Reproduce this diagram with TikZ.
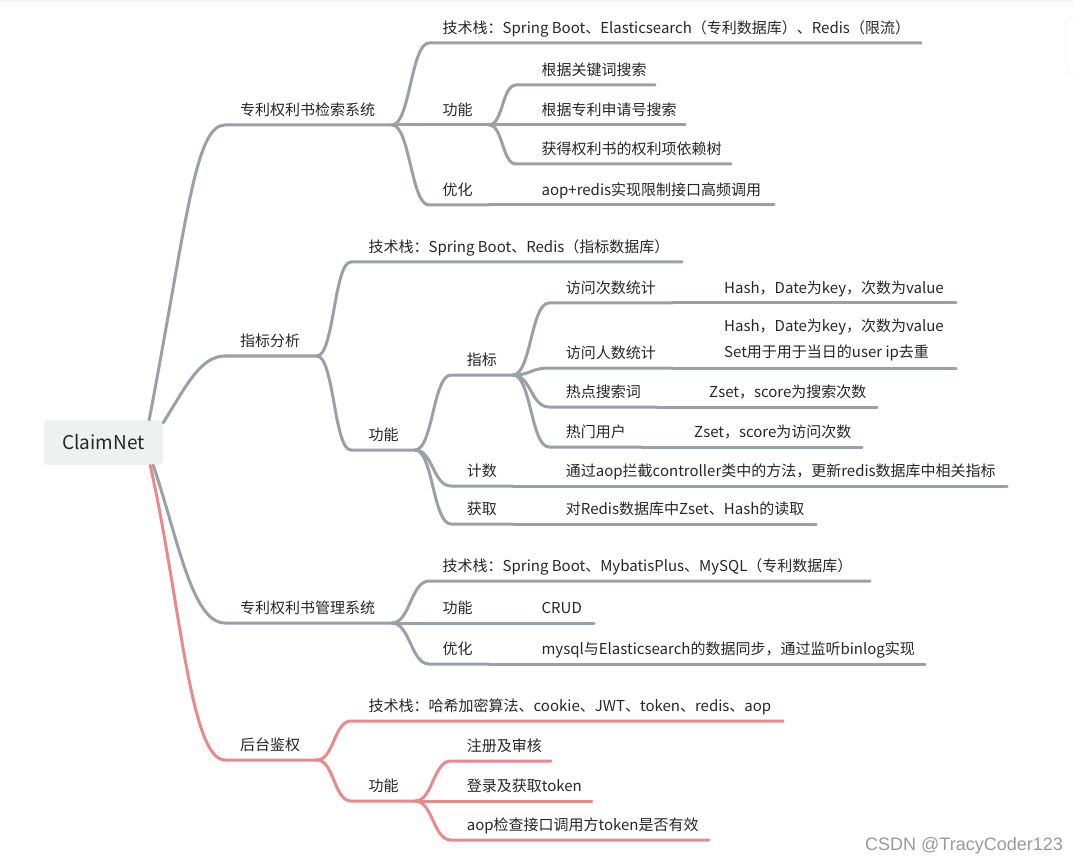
\documentclass[tikz,border=0pt]{standalone}
\usepackage{fontspec}
\setmainfont{Noto Sans CJK SC}
\newfontfamily\markfont{Liberation Sans}
\definecolor{branchgray}{HTML}{9AA0A8}
\definecolor{branchred}{HTML}{E8898C}
\definecolor{rootgray}{HTML}{EFF1F1}
\definecolor{topictext}{HTML}{262626}

\tikzset{
  topic/.style={anchor=base west,inner sep=0pt,text=topictext,font=\fontsize{15}{18}\selectfont},
  gbranch/.style={draw=branchgray,line width=3pt,line cap=round},
  rbranch/.style={draw=branchred,line width=3pt,line cap=round},
}

\begin{document}
\begin{tikzpicture}[x=1pt,y=-1pt]
\useasboundingbox (0,0) rectangle (1073,866);
\fill[black!4] (0,0) rectangle (1073,2);
\draw[black!7,fill=white,rounded corners=8pt] (1066,17) rectangle (1095,75);

% root
\node[fill=rootgray,rounded corners=4pt,minimum width=119pt,minimum height=45pt,inner sep=0pt,
  text=topictext,font=\fontsize{19}{22}\selectfont] (root) at (103.5,442.5) {ClaimNet};

% underline ends
\coordinate (jsxt-l) at (225,125);       \coordinate (jsxt-r) at (392,125);
\coordinate (zbfx-l) at (225,356);       \coordinate (zbfx-r) at (317,356);
\coordinate (glxt-l) at (225,623);       \coordinate (glxt-r) at (392,623);
\coordinate (htjq-l) at (225,760);       \coordinate (htjq-r) at (317,760);

\coordinate (jsxt-jsz-l) at (429,43);    \coordinate (jsxt-jsz-r) at (921,43);
\coordinate (jsxt-gn-l) at (429,125);    \coordinate (jsxt-gn-r) at (489,125);
\coordinate (jsxt-yh-l) at (429,205);    \coordinate (jsxt-yh-r) at (489,205);
\coordinate (gjc-l) at (516,85);         \coordinate (gjc-r) at (655,85);
\coordinate (sqh-l) at (516,125);        \coordinate (sqh-r) at (685,125);
\coordinate (ylsh-l) at (516,164);       \coordinate (ylsh-r) at (731,164);
\coordinate (xl-l) at (516,205);         \coordinate (xl-r) at (774,205);

\coordinate (zbfx-jsz-l) at (351,262);   \coordinate (zbfx-jsz-r) at (682,262);
\coordinate (zbfx-gn-l) at (351,450);    \coordinate (zbfx-gn-r) at (415,450);
\coordinate (zb-l) at (451,375);         \coordinate (zb-r) at (513,375);
\coordinate (fwcs-l) at (549,303);       \coordinate (fwcs-r) at (672,303);
\coordinate (fwcs-v-l) at (699,303);     \coordinate (fwcs-v-r) at (956,303);
\coordinate (fwrs-l) at (549,368);       \coordinate (fwrs-r) at (672,368);
\coordinate (fwrs-v-l) at (699,368);     \coordinate (fwrs-v-r) at (956,368);
\coordinate (rdss-l) at (549,407);       \coordinate (rdss-r) at (657,407);
\coordinate (rdss-v-l) at (684,407);     \coordinate (rdss-v-r) at (877,407);
\coordinate (rmyh-l) at (549,447);       \coordinate (rmyh-r) at (642,447);
\coordinate (rmyh-v-l) at (669,447);     \coordinate (rmyh-v-r) at (862,447);
\coordinate (js-l) at (451,486);         \coordinate (js-r) at (513,486);
\coordinate (js-v-l) at (540,486);       \coordinate (js-v-r) at (1007,486);
\coordinate (hq-l) at (451,524);         \coordinate (hq-r) at (513,524);
\coordinate (hq-v-l) at (540,524);       \coordinate (hq-v-r) at (816,524);

\coordinate (glxt-jsz-l) at (429,581);   \coordinate (glxt-jsz-r) at (870,581);
\coordinate (glxt-gn-l) at (429,623);    \coordinate (glxt-gn-r) at (489,623);
\coordinate (glxt-yh-l) at (429,664);    \coordinate (glxt-yh-r) at (489,664);
\coordinate (crud-l) at (516,623);       \coordinate (crud-r) at (594,623);
\coordinate (tb-l) at (516,664);         \coordinate (tb-r) at (925,664);

\coordinate (htjq-jsz-l) at (351,721);   \coordinate (htjq-jsz-r) at (783,721);
\coordinate (htjq-gn-l) at (351,801);    \coordinate (htjq-gn-r) at (415,801);
\coordinate (zc-l) at (451,761);         \coordinate (zc-r) at (551,761);
\coordinate (dl-l) at (451,801);         \coordinate (dl-r) at (592,801);
\coordinate (jc-l) at (451,840);         \coordinate (jc-r) at (709,840);

% branches from the root
\draw[gbranch] ([xshift=-14pt]root.north east) .. controls +(38,-200) and +(-30,0) .. (jsxt-l) -- (jsxt-r);
\draw[gbranch] ([yshift=-3pt]root.north east) .. controls +(22,-35) and +(-25,0) .. (zbfx-l) -- (zbfx-r);
\draw[gbranch] ([xshift=-10pt]root.south east) .. controls +(25,74) and +(-33,0) .. (glxt-l) -- (glxt-r);

% 专利权利书检索系统
\draw[gbranch] (jsxt-r) .. controls +(18,0) and +(-18,0) .. (jsxt-jsz-l) -- (jsxt-jsz-r);
\draw[gbranch] (jsxt-r) -- (jsxt-gn-l) -- (jsxt-gn-r);
\draw[gbranch] (jsxt-r) .. controls +(18,0) and +(-18,0) .. (jsxt-yh-l) -- (jsxt-yh-r);
\draw[gbranch] (jsxt-gn-r) .. controls +(14,0) and +(-14,0) .. (gjc-l) -- (gjc-r);
\draw[gbranch] (jsxt-gn-r) -- (sqh-l) -- (sqh-r);
\draw[gbranch] (jsxt-gn-r) .. controls +(14,0) and +(-14,0) .. (ylsh-l) -- (ylsh-r);
\draw[gbranch] (jsxt-yh-r) -- (xl-l) -- (xl-r);

% 指标分析
\draw[gbranch] (zbfx-r) .. controls +(17,0) and +(-17,0) .. (zbfx-jsz-l) -- (zbfx-jsz-r);
\draw[gbranch] (zbfx-r) .. controls +(17,0) and +(-17,0) .. (zbfx-gn-l) -- (zbfx-gn-r);
\draw[gbranch] (zbfx-gn-r) .. controls +(18,0) and +(-18,0) .. (zb-l) -- (zb-r);
\draw[gbranch] (zbfx-gn-r) .. controls +(18,0) and +(-18,0) .. (js-l) -- (js-r);
\draw[gbranch] (zbfx-gn-r) .. controls +(18,0) and +(-18,0) .. (hq-l) -- (hq-r);
\draw[gbranch] (zb-r) .. controls +(18,0) and +(-18,0) .. (fwcs-l) -- (fwcs-r);
\draw[gbranch] (zb-r) .. controls +(18,0) and +(-18,0) .. (fwrs-l) -- (fwrs-r);
\draw[gbranch] (zb-r) .. controls +(18,0) and +(-18,0) .. (rdss-l) -- (rdss-r);
\draw[gbranch] (zb-r) .. controls +(18,0) and +(-18,0) .. (rmyh-l) -- (rmyh-r);
\draw[gbranch] (fwcs-r) -- (fwcs-v-l) -- (fwcs-v-r);
\draw[gbranch] (fwrs-r) -- (fwrs-v-l) -- (fwrs-v-r);
\draw[gbranch] (rdss-r) -- (rdss-v-l) -- (rdss-v-r);
\draw[gbranch] (rmyh-r) -- (rmyh-v-l) -- (rmyh-v-r);
\draw[gbranch] (js-r) -- (js-v-l) -- (js-v-r);
\draw[gbranch] (hq-r) -- (hq-v-l) -- (hq-v-r);

% 专利权利书管理系统
\draw[gbranch] (glxt-r) .. controls +(18,0) and +(-18,0) .. (glxt-jsz-l) -- (glxt-jsz-r);
\draw[gbranch] (glxt-r) -- (glxt-gn-l) -- (glxt-gn-r);
\draw[gbranch] (glxt-r) .. controls +(18,0) and +(-18,0) .. (glxt-yh-l) -- (glxt-yh-r);
\draw[gbranch] (glxt-gn-r) -- (crud-l) -- (crud-r);
\draw[gbranch] (glxt-yh-r) -- (tb-l) -- (tb-r);

% 后台鉴权
\draw[rbranch] ([xshift=-13pt]root.south east) .. controls +(30,134) and +(-35,0) .. (htjq-l) -- (htjq-r);
\draw[rbranch] (htjq-r) .. controls +(17,0) and +(-17,0) .. (htjq-jsz-l) -- (htjq-jsz-r);
\draw[rbranch] (htjq-r) .. controls +(17,0) and +(-17,0) .. (htjq-gn-l) -- (htjq-gn-r);
\draw[rbranch] (htjq-gn-r) .. controls +(18,0) and +(-18,0) .. (zc-l) -- (zc-r);
\draw[rbranch] (htjq-gn-r) -- (dl-l) -- (dl-r);
\draw[rbranch] (htjq-gn-r) .. controls +(18,0) and +(-18,0) .. (jc-l) -- (jc-r);

% texts
\node[topic] (jsxt) at (240,115.5) {专利权利书检索系统};
\node[topic] (zbfx) at (240,346.5) {指标分析};
\node[topic] (glxt) at (240,613.5) {专利权利书管理系统};
\node[topic] (htjq) at (240,750.5) {后台鉴权};

\node[topic] (jsxt-jsz) at (442.5,33.5) {技术栈：Spring Boot、Elasticsearch（专利数据库）、Redis（限流）};
\node[topic] (jsxt-gn) at (442.5,115.5) {功能};
\node[topic] (jsxt-yh) at (442.5,195.5) {优化};
\node[topic] (gjc) at (541.4,75.5) {根据关键词搜索};
\node[topic] (sqh) at (541.4,115.5) {根据专利申请号搜索};
\node[topic] (ylsh) at (541.4,154.5) {获得权利书的权利项依赖树};
\node[topic] (xl) at (541.4,195.5) {aop+redis实现限制接口高频调用};

\node[topic] (zbfx-jsz) at (368.5,252.5) {技术栈：Spring Boot、Redis（指标数据库）};
\node[topic] (zbfx-gn) at (368.5,440.5) {功能};
\node[topic] (zb) at (466.6,365.5) {指标};
\node[topic] (fwcs) at (565.7,293.5) {访问次数统计};
\node[topic] (fwcs-v) at (724,293.5) {Hash，Date为key，次数为value};
\node[topic] (fwrs) at (565.7,358.5) {访问人数统计};
\node[topic,anchor=west,align=left,font=\fontsize{15}{26.6}\selectfont] (fwrs-v) at (724,340)
  {Hash，Date为key，次数为value\\Set用于用于当日的user ip去重};
\node[topic] (rdss) at (565.7,397.5) {热点搜索词};
\node[topic] (rdss-v) at (709,397.5) {Zset，score为搜索次数};
\node[topic] (rmyh) at (565.7,437.5) {热门用户};
\node[topic] (rmyh-v) at (694,437.5) {Zset，score为访问次数};
\node[topic] (js) at (466.6,476.5) {计数};
\node[topic] (js-v) at (565.7,476.5) {通过aop拦截controller类中的方法，更新redis数据库中相关指标};
\node[topic] (hq) at (466.6,514.5) {获取};
\node[topic] (hq-v) at (565.7,514.5) {对Redis数据库中Zset、Hash的读取};

\node[topic] (glxt-jsz) at (442.5,571.5) {技术栈：Spring Boot、MybatisPlus、MySQL（专利数据库）};
\node[topic] (glxt-gn) at (442.5,613.5) {功能};
\node[topic] (glxt-yh) at (442.5,654.5) {优化};
\node[topic] (crud) at (541.4,613.5) {CRUD};
\node[topic] (tb) at (541.4,654.5) {mysql与Elasticsearch的数据同步，通过监听binlog实现};

\node[topic] (htjq-jsz) at (368.5,711.5) {技术栈：哈希加密算法、cookie、JWT、token、redis、aop};
\node[topic] (htjq-gn) at (368.5,791.5) {功能};
\node[topic] (zc) at (466.6,751.5) {注册及审核};
\node[topic] (dl) at (466.6,791.5) {登录及获取token};
\node[topic] (jc) at (466.6,830.5) {aop检查接口调用方token是否有效};

% watermark
\node[text=black!40,font=\markfont\fontsize{18}{20}\selectfont,inner sep=0pt] (mark) at (964,846) {CSDN @TracyCoder123};

\end{tikzpicture}
\end{document}
